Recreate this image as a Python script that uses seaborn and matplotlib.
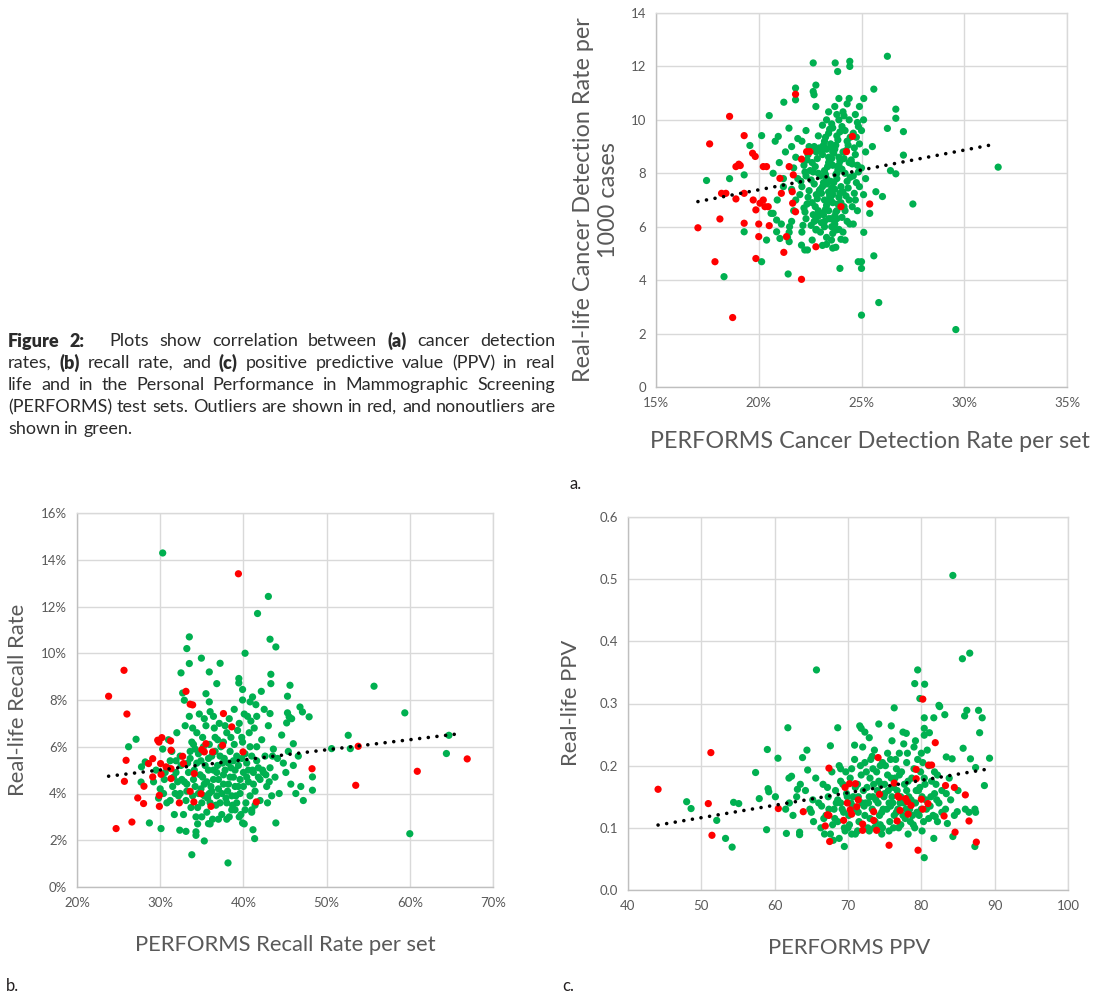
import numpy as np
import pandas as pd
import matplotlib.pyplot as plt
import seaborn as sns
from matplotlib.ticker import FuncFormatter

# ---- panel a: cancer detection rate (x in %, y per 1000 cases)
a_red = [(17.04, 5.96), (17.61, 9.1), (17.87, 4.69), (18.11, 6.29), (18.19, 7.25), (18.4, 7.25),
         (18.58, 10.13), (18.73, 2.6), (18.89, 7.04), (18.89, 8.25), (19.03, 8.34), (19.1, 8.29),
         (19.29, 9.41), (19.29, 7.25), (19.29, 6.13), (19.7, 8.75), (19.83, 8.63), (19.73, 7.0),
         (19.86, 6.63), (19.86, 4.81), (20.0, 6.1), (20.0, 5.63), (20.06, 6.88), (20.22, 7.0),
         (20.3, 6.75), (20.46, 6.75), (20.22, 8.25), (20.38, 8.25), (20.51, 6.04), (21.03, 7.81),
         (21.1, 7.25), (21.22, 5.04), (21.35, 5.63), (21.48, 8.25), (21.63, 7.31), (21.65, 6.88),
         (21.79, 10.96), (21.79, 6.56), (22.08, 8.53), (22.08, 4.03), (22.33, 8.81), (22.49, 8.81),
         (22.78, 5.25), (24.27, 8.81), (24.0, 6.75), (24.56, 9.38), (25.4, 6.85), (21.68, 7.94)]
a_green = [(17.46, 7.73), (18.31, 4.13), (18.58, 7.8), (19.29, 7.94), (19.29, 5.81), (19.57, 9.04),
           (20.14, 4.69), (20.14, 9.41), (20.38, 5.5), (20.51, 10.16), (20.7, 6.5), (20.95, 9.38),
           (21.03, 5.56), (21.22, 10.66), (21.47, 9.69), (21.43, 4.23), (21.79, 11.19), (21.79, 10.75),
           (22.08, 5.31), (22.24, 5.13), (22.37, 5.13), (22.65, 12.13), (22.65, 11.06), (22.69, 10.94),
           (22.78, 11.3), (22.78, 10.5), (23.72, 12.13), (23.84, 11.81), (24.43, 12.19), (24.43, 12.0),
           (26.26, 12.38), (25.6, 11.15), (25.11, 10.8), (26.67, 10.4), (26.67, 10.06), (26.26, 9.68),
           (27.04, 9.56), (27.04, 8.68), (31.65, 8.23), (27.5, 6.85), (26.02, 7.13), (25.7, 7.31),
           (26.67, 7.98), (26.41, 8.1), (25.53, 9.0), (25.6, 4.91), (25.0, 4.69), (25.0, 4.44),
           (24.84, 4.69), (25.0, 2.69), (25.84, 3.16), (29.59, 2.15), (25.11, 5.79), (25.4, 6.5),
           (23.95, 4.44), (24.43, 6.1), (23.3, 5.34), (23.75, 5.23), (23.54, 5.5), (24.0, 5.53),
           (23.77, 5.88), (22.78, 5.88), (22.78, 6.25), (21.48, 5.79), (21.48, 5.44), (20.87, 5.81),
           (20.87, 6.25),
           (21.6, 6.2), (21.7, 6.6), (21.8, 7.0), (21.6, 7.4), (21.9, 7.8), (21.7, 8.2), (21.8, 8.6),
           (21.6, 9.0), (21.9, 9.3), (21.5, 6.0), (22.1, 5.8), (22.3, 6.3), (22.2, 6.7), (22.4, 7.1),
           (22.1, 7.5), (22.3, 7.9), (22.2, 8.3), (22.4, 8.7), (22.1, 9.2), (22.3, 9.6), (22.6, 5.5),
           (22.8, 5.9), (22.7, 6.2), (22.9, 6.6), (22.6, 6.9), (22.8, 7.2), (22.7, 7.6), (22.9, 8.0),
           (22.6, 8.4), (22.8, 8.8), (22.7, 9.0), (22.9, 9.4), (23.1, 5.3), (23.2, 6.0), (23.4, 6.3),
           (23.1, 6.5), (23.3, 6.8), (23.2, 7.0), (23.4, 7.3), (23.1, 7.5), (23.3, 7.8), (23.2, 8.1),
           (23.4, 8.4), (23.1, 8.7), (23.3, 8.9), (23.2, 9.2), (23.4, 9.5), (23.1, 9.8), (23.3, 10.0),
           (23.6, 5.2), (23.7, 6.1), (23.5, 6.3), (23.8, 6.6), (23.6, 6.9), (23.9, 7.1), (23.7, 7.4),
           (23.5, 7.7), (23.8, 8.0), (23.6, 8.3), (23.9, 8.6), (23.7, 8.9), (23.5, 9.1), (23.8, 9.4),
           (23.6, 9.7), (23.9, 10.0), (23.7, 10.5), (23.9, 10.8), (24.1, 5.8), (24.3, 6.2), (24.2, 6.6),
           (24.4, 7.0), (24.1, 7.3), (24.3, 7.7), (24.2, 8.0), (24.4, 8.4), (24.1, 8.8), (24.3, 9.2),
           (24.2, 9.6), (24.4, 10.0), (24.1, 10.3), (24.3, 10.6), (24.4, 10.8), (24.6, 6.1), (24.8, 6.6),
           (24.7, 7.0), (24.9, 7.5), (24.6, 7.9), (24.8, 8.3), (24.7, 8.7), (24.9, 9.1), (24.6, 9.5),
           (24.8, 9.9), (24.7, 10.2), (24.9, 10.5), (25.1, 7.2), (25.2, 7.8), (25.0, 8.2), (25.2, 8.8),
           (25.0, 9.6), (25.1, 10.0), (20.6, 6.5), (20.9, 7.0), (21.2, 7.5), (20.7, 8.0), (21.0, 8.4),
           (21.3, 8.8), (20.8, 9.2), (21.1, 6.1), (21.4, 5.6), (21.2, 7.8), (23.5, 7.0), (23.6, 7.2),
           (23.4, 6.6), (23.7, 6.4), (23.3, 7.6), (23.0, 7.9), (23.8, 7.8), (23.4, 8.6), (23.6, 8.8),
           (23.5, 9.0), (23.9, 8.3), (23.2, 6.2), (22.9, 6.4), (23.0, 7.4), (24.0, 7.5), (24.0, 6.9),
           (23.8, 6.3), (24.5, 8.5), (22.5, 8.1), (22.0, 7.2),
           (22.55, 6.05), (22.65, 6.45), (22.75, 6.75), (22.85, 7.05), (22.95, 7.35), (22.55, 7.75),
           (22.65, 8.05), (22.75, 8.25), (22.85, 8.55), (22.95, 8.95), (23.05, 6.15), (23.15, 6.45),
           (23.25, 6.65), (23.35, 6.95), (23.45, 7.15), (23.05, 7.25), (23.15, 7.65), (23.25, 7.95),
           (23.35, 8.25), (23.45, 8.55), (23.05, 8.85), (23.15, 9.05), (23.25, 9.35), (23.45, 9.65),
           (23.55, 6.0), (23.65, 6.25), (23.75, 6.55), (23.85, 6.85), (23.95, 7.25), (23.55, 7.45),
           (23.65, 7.65), (23.75, 7.95), (23.85, 8.15), (23.95, 8.45), (23.55, 8.55), (23.65, 8.75),
           (23.75, 9.05), (23.85, 9.25), (23.95, 9.55), (23.55, 9.85), (24.05, 6.35), (24.15, 6.75),
           (24.25, 7.15), (24.35, 7.45), (24.45, 7.85), (24.05, 8.15), (24.15, 8.55), (24.25, 8.85),
           (24.35, 9.05), (24.45, 9.35), (24.05, 9.75), (24.15, 10.15), (24.55, 6.75), (24.65, 7.25),
           (24.75, 7.65), (24.85, 8.05), (24.55, 8.35), (24.65, 8.95), (24.75, 9.35), (24.85, 9.75),
           (22.15, 6.05), (22.25, 6.55), (22.35, 6.85), (22.45, 7.35), (22.05, 7.7), (22.25, 8.05),
           (22.35, 8.5), (22.45, 9.0), (23.3, 5.6), (23.6, 5.75), (23.9, 5.9), (23.0, 5.8), (24.2, 5.5),
           (23.4, 10.3), (23.8, 10.2)]
a_trend_x = [17.04, 31.29]
a_trend_y = [6.94, 9.06]

# ---- panel b: recall rate (both in %)
b_red = [(23.8, 8.16), (24.7, 2.5), (25.65, 9.27), (25.7, 4.52), (25.9, 5.42), (26.0, 7.4),
         (26.6, 2.78), (27.3, 3.81), (28.0, 3.57), (28.05, 4.31), (28.6, 5.28), (29.1, 5.49),
         (29.1, 4.71), (29.7, 6.28), (29.85, 6.2), (29.9, 3.92), (29.9, 3.45), (30.2, 6.39),
         (30.05, 5.28), (30.1, 4.82), (30.7, 5.14), (31.3, 5.06), (31.25, 6.25), (31.3, 5.85),
         (31.3, 4.64), (32.3, 3.6), (32.7, 5.59), (32.8, 5.28), (33.1, 8.37), (33.6, 7.82),
         (33.9, 7.79), (33.6, 4.09), (34.1, 4.85), (34.05, 3.64), (34.9, 3.99), (35.0, 5.88),
         (35.3, 5.78), (35.5, 6.13), (36.1, 3.45), (36.3, 5.78), (37.6, 7.42), (37.5, 6.06),
         (38.6, 6.85), (39.4, 13.4), (39.95, 5.78), (41.55, 3.64), (48.25, 5.06), (53.5, 4.35),
         (53.8, 6.02), (60.9, 4.95), (66.9, 5.48)]
b_green = [(30.3, 14.29), (43.0, 12.43), (41.7, 11.7), (33.5, 10.7), (43.2, 10.6), (43.9, 10.27),
           (33.2, 10.2), (40.2, 10.0), (34.95, 9.79), (33.5, 9.56), (37.2, 9.57), (32.5, 9.16),
           (35.9, 9.2), (43.3, 9.1), (43.3, 8.7), (39.45, 8.92), (39.45, 8.73), (36.8, 8.7),
           (55.7, 8.59), (45.6, 8.63), (35.5, 8.27), (32.7, 8.3), (32.9, 7.99), (39.9, 8.45),
           (42.15, 8.37), (41.1, 8.13), (40.8, 7.92), (45.3, 8.16), (39.9, 8.0), (35.9, 7.92),
           (59.4, 7.45), (43.2, 7.42), (46.8, 7.7), (47.1, 7.49), (47.9, 7.28), (45.3, 7.45),
           (45.5, 7.28), (45.8, 7.2), (45.2, 7.02), (27.1, 6.32), (26.2, 6.0), (52.6, 6.49),
           (64.7, 6.49), (64.4, 5.71), (60.0, 2.28), (50.6, 5.92), (52.85, 5.92), (48.3, 4.71),
           (48.3, 4.14), (46.0, 6.13), (38.15, 1.03), (33.8, 1.38), (35.3, 1.97), (28.7, 2.74),
           (30.1, 2.5), (34.3, 2.21), (34.3, 2.36), (32.35, 2.43), (33.1, 2.38), (43.9, 2.74),
           (41.15, 2.45), (41.35, 2.07), (39.9, 2.74), (35.8, 2.71), (27.7, 4.49), (27.75, 5.14),
           (28.2, 5.35),
           (29.2, 4.5), (29.5, 5.0), (29.8, 3.8), (30.0, 4.2), (30.3, 5.9), (30.5, 4.6), (30.8, 3.6),
           (31.0, 6.3), (31.2, 5.4), (31.5, 4.3), (31.7, 3.1), (31.9, 4.9), (32.0, 6.6), (32.2, 3.9),
           (32.4, 5.6), (32.6, 4.6), (32.8, 3.1), (33.0, 6.9), (33.2, 4.1), (33.3, 5.3), (33.5, 7.3),
           (33.7, 3.4), (33.8, 6.2), (34.0, 4.6), (34.1, 5.0), (34.3, 3.0), (34.4, 6.6), (34.6, 4.0),
           (34.7, 7.4), (34.9, 5.4), (35.0, 3.6), (35.2, 6.0), (35.3, 4.4), (35.5, 6.9), (35.6, 3.2),
           (35.8, 5.0), (35.9, 4.0), (36.0, 7.5), (36.2, 5.6), (36.3, 2.9), (36.4, 4.6), (36.6, 6.4),
           (36.7, 3.5), (36.9, 5.2), (37.0, 4.2), (37.1, 7.0), (37.3, 6.0), (37.4, 3.1), (37.6, 4.8),
           (37.7, 5.5), (37.9, 3.8), (38.0, 6.6), (38.2, 4.4), (38.3, 7.2), (38.5, 5.1), (38.6, 3.3),
           (38.8, 4.7), (38.9, 6.1), (39.1, 3.9), (39.2, 5.6), (39.4, 4.3), (39.5, 7.0), (39.7, 3.1),
           (39.8, 6.4), (40.0, 4.9), (40.2, 5.7), (40.3, 3.6), (40.5, 7.3), (40.6, 4.5), (40.8, 6.0),
           (41.0, 3.3), (41.1, 5.0), (41.3, 6.8), (41.4, 4.1), (41.6, 5.4), (41.8, 4.7), (42.0, 3.7),
           (42.2, 6.3), (42.4, 4.9), (42.6, 5.6), (42.8, 4.3), (43.0, 6.9), (43.2, 5.1), (43.4, 3.9),
           (43.6, 5.9), (43.8, 4.7), (44.1, 5.5), (44.3, 4.0), (44.6, 6.5), (44.8, 5.3), (45.1, 4.9),
           (45.4, 5.8), (45.7, 4.4), (46.0, 5.2), (46.3, 4.0), (46.6, 5.6), (46.9, 4.3), (47.2, 3.7),
           (30.9, 5.1), (31.4, 5.8), (32.9, 4.5), (33.6, 5.8), (34.8, 4.8), (35.4, 5.2), (36.1, 4.3),
           (36.8, 4.9), (37.5, 5.3), (38.1, 4.1), (38.4, 5.8), (39.0, 5.0), (39.6, 4.6), (40.4, 5.3),
           (41.2, 4.4), (35.7, 3.8), (37.2, 3.6), (38.7, 3.5), (34.5, 3.4), (33.1, 3.7), (36.5, 6.8),
           (39.3, 6.7), (40.9, 7.1), (37.8, 6.9), (34.2, 5.9), (32.5, 5.2), (31.8, 4.0), (35.1, 6.4),
           (42.5, 7.6), (41.5, 7.8), (36.0, 2.7), (39.5, 3.0), (40.1, 2.7), (37.0, 2.9),
           (33.2, 4.4), (33.4, 4.9), (33.6, 5.5), (33.9, 3.9), (34.2, 4.3), (34.4, 5.3), (34.6, 5.7),
           (34.9, 4.2), (35.1, 4.7), (35.3, 3.9), (35.6, 4.5), (35.8, 5.5), (36.0, 3.6), (36.2, 4.1),
           (36.4, 5.0), (36.6, 5.8), (36.8, 3.9), (37.0, 4.6), (37.2, 5.6), (37.4, 4.0), (37.6, 4.4),
           (37.8, 5.0), (38.0, 3.6), (38.2, 5.3), (38.4, 4.7), (38.6, 3.9), (38.8, 5.4), (39.0, 4.3),
           (39.2, 3.6), (39.4, 5.2), (39.6, 4.0), (39.8, 5.5), (40.0, 4.3), (40.2, 3.3), (40.4, 4.7),
           (40.6, 5.0), (40.8, 3.9), (41.0, 5.6), (41.2, 4.9), (41.4, 3.5), (41.6, 6.0), (41.8, 5.1),
           (42.0, 4.6), (42.3, 5.0), (42.7, 4.8), (43.1, 4.5), (43.5, 5.6), (32.4, 4.0), (32.1, 4.5),
           (31.9, 5.4), (31.6, 4.7), (31.2, 3.7), (30.6, 4.9), (30.4, 4.0), (36.9, 6.3), (35.9, 6.1),
           (34.0, 6.1), (38.5, 6.4), (39.9, 6.2), (40.7, 6.6), (37.6, 6.2), (33.9, 6.8), (35.3, 7.2),
           (36.4, 7.3), (38.9, 7.6), (40.1, 7.4), (41.6, 7.3), (34.5, 2.7), (35.0, 3.0), (38.3, 3.0),
           (38.0, 2.9), (39.0, 3.3), (41.0, 3.2), (42.9, 3.6)]
b_trend_x = [23.8, 66.0]
b_trend_y = [4.74, 6.56]

# ---- panel c: positive predictive value
c_red = [(44.1, 0.162), (50.95, 0.139), (51.3, 0.221), (51.45, 0.088), (60.5, 0.131), (63.9, 0.126),
         (66.9, 0.103), (67.2, 0.121), (67.4, 0.12), (67.4, 0.196), (67.5, 0.078), (69.4, 0.112),
         (69.6, 0.165), (70.2, 0.171), (71.0, 0.171), (69.9, 0.14), (70.3, 0.129), (70.5, 0.122),
         (71.2, 0.134), (71.4, 0.145), (72.0, 0.106), (72.0, 0.096), (73.5, 0.126), (73.5, 0.112),
         (73.9, 0.096), (74.1, 0.213), (74.3, 0.154), (75.6, 0.072), (76.3, 0.172), (76.7, 0.111),
         (76.8, 0.151), (76.95, 0.149), (77.1, 0.128), (77.85, 0.147), (78.1, 0.142), (78.2, 0.122),
         (78.6, 0.136), (79.3, 0.194), (79.3, 0.179), (79.55, 0.064), (80.0, 0.146), (80.2, 0.13),
         (80.2, 0.307), (80.9, 0.139), (81.0, 0.201), (81.4, 0.201), (81.9, 0.237), (83.1, 0.119),
         (83.3, 0.168), (84.5, 0.165), (84.6, 0.093), (86.0, 0.153), (86.5, 0.111), (87.5, 0.077)]
c_green = [(84.3, 0.506), (86.6, 0.381), (85.6, 0.372), (65.7, 0.354), (79.5, 0.354), (79.1, 0.332),
           (80.45, 0.331), (79.8, 0.308), (82.4, 0.297), (82.5, 0.295), (83.2, 0.282), (76.3, 0.293),
           (86.2, 0.289), (87.8, 0.289), (85.9, 0.28), (88.3, 0.277), (80.4, 0.277), (81.7, 0.277),
           (61.8, 0.261), (68.6, 0.261), (74.2, 0.267), (75.9, 0.264), (71.6, 0.264), (71.8, 0.26),
           (72.3, 0.254), (72.9, 0.245), (80.4, 0.26), (80.4, 0.249), (81.1, 0.253), (87.95, 0.253),
           (77.5, 0.254), (77.95, 0.252), (59.0, 0.226), (64.4, 0.225), (67.6, 0.232), (70.9, 0.233),
           (85.7, 0.228), (89.3, 0.212), (83.4, 0.214), (84.2, 0.211), (86.7, 0.211), (60.45, 0.212),
           (63.8, 0.213), (57.4, 0.189), (87.4, 0.197), (88.6, 0.168), (48.0, 0.142), (48.6, 0.131),
           (52.1, 0.112), (53.3, 0.083), (54.2, 0.069), (54.4, 0.141), (55.1, 0.139), (57.9, 0.147),
           (58.9, 0.097), (59.1, 0.163), (59.2, 0.158), (60.1, 0.15), (61.6, 0.091), (63.4, 0.093),
           (63.4, 0.089), (61.95, 0.18), (62.3, 0.183), (63.1, 0.162), (64.5, 0.193), (69.5, 0.07),
           (68.8, 0.083), (80.4, 0.052), (87.3, 0.07), (84.3, 0.086), (84.9, 0.126), (86.5, 0.125),
           (87.3, 0.13), (87.4, 0.125), (81.7, 0.083), (83.55, 0.107), (81.9, 0.118), (82.1, 0.145),
           (64.2, 0.16), (64.8, 0.13), (65.3, 0.11), (65.6, 0.18), (66.0, 0.14), (66.3, 0.10),
           (66.6, 0.17), (67.0, 0.12), (67.3, 0.15), (67.6, 0.09), (67.8, 0.19), (68.1, 0.13),
           (68.3, 0.16), (68.6, 0.11), (68.8, 0.20), (69.0, 0.14), (69.3, 0.17), (69.5, 0.10),
           (69.7, 0.19), (69.9, 0.15), (70.1, 0.12), (70.3, 0.18), (70.5, 0.09), (70.7, 0.15),
           (70.9, 0.21), (71.1, 0.13), (71.3, 0.17), (71.5, 0.11), (71.7, 0.20), (71.9, 0.14),
           (72.1, 0.16), (72.3, 0.12), (72.5, 0.19), (72.7, 0.10), (72.9, 0.15), (73.1, 0.21),
           (73.3, 0.13), (73.5, 0.17), (73.7, 0.11), (73.9, 0.19), (74.1, 0.14), (74.3, 0.12),
           (74.5, 0.17), (74.7, 0.10), (74.9, 0.15), (75.1, 0.20), (75.3, 0.13), (75.5, 0.16),
           (75.7, 0.11), (75.9, 0.18), (76.1, 0.14), (76.3, 0.12), (76.5, 0.21), (76.7, 0.16),
           (76.9, 0.10), (77.1, 0.14), (77.3, 0.19), (77.5, 0.12), (77.7, 0.17), (77.9, 0.13),
           (78.1, 0.22), (78.3, 0.15), (78.5, 0.11), (78.7, 0.18), (78.9, 0.14), (79.1, 0.10),
           (79.3, 0.16), (79.5, 0.21), (79.7, 0.12), (79.9, 0.19), (80.1, 0.15), (80.3, 0.11),
           (80.5, 0.17), (80.7, 0.13), (81.0, 0.20), (81.3, 0.15), (81.6, 0.12), (82.0, 0.17),
           (82.4, 0.14), (82.8, 0.16), (83.3, 0.13), (62.5, 0.12), (63.0, 0.15), (61.5, 0.13),
           (62.0, 0.14), (63.5, 0.17), (66.8, 0.09), (68.0, 0.08), (70.0, 0.10), (71.0, 0.09),
           (72.8, 0.14), (73.0, 0.18), (74.0, 0.16), (74.8, 0.13), (75.0, 0.17), (75.6, 0.14),
           (76.0, 0.15), (76.4, 0.18), (76.8, 0.13), (77.2, 0.15), (77.6, 0.14), (78.0, 0.16),
           (78.4, 0.13), (78.8, 0.12), (79.2, 0.14), (79.6, 0.16), (80.0, 0.13), (80.4, 0.18),
           (70.4, 0.14), (71.4, 0.15), (72.4, 0.14), (69.2, 0.13), (68.4, 0.14), (67.4, 0.13),
           (73.4, 0.15), (74.4, 0.20), (72.0, 0.23), (75.4, 0.22), (77.0, 0.22), (79.0, 0.23),
           (78.2, 0.09), (76.2, 0.10), (74.6, 0.09), (73.6, 0.10), (81.8, 0.19), (82.2, 0.11),
           (83.8, 0.18), (84.5, 0.12),
           (68.2, 0.115), (68.6, 0.145), (69.0, 0.175), (69.4, 0.125), (69.8, 0.155), (70.2, 0.105),
           (70.6, 0.135), (71.0, 0.165), (71.4, 0.125), (71.8, 0.185), (72.2, 0.135), (72.6, 0.165),
           (73.0, 0.115), (73.4, 0.195), (73.8, 0.145), (74.2, 0.175), (74.6, 0.125), (75.0, 0.155),
           (75.4, 0.185), (75.8, 0.135), (76.2, 0.165), (76.6, 0.125), (77.0, 0.185), (77.4, 0.145),
           (77.8, 0.115), (78.2, 0.175), (78.6, 0.145), (79.0, 0.195), (79.4, 0.125), (79.8, 0.165),
           (80.2, 0.205), (80.6, 0.145), (81.0, 0.115), (81.4, 0.175), (81.8, 0.155), (82.2, 0.185),
           (72.3, 0.205), (73.3, 0.215), (74.7, 0.205), (75.8, 0.21), (76.6, 0.195), (78.0, 0.205),
           (80.0, 0.22), (80.8, 0.225), (79.2, 0.24), (77.6, 0.235), (76.0, 0.24), (73.6, 0.225),
           (70.5, 0.195), (69.0, 0.195), (67.2, 0.165), (66.4, 0.135), (65.2, 0.145), (65.0, 0.125),
           (66.7, 0.115), (67.9, 0.105), (69.6, 0.095), (71.3, 0.095), (72.9, 0.095), (74.4, 0.105),
           (75.6, 0.095), (77.2, 0.105), (78.9, 0.105), (80.1, 0.095), (81.2, 0.135), (82.8, 0.125),
           (83.4, 0.155), (84.0, 0.145), (85.0, 0.16), (86.0, 0.13)]
c_trend_x = [44.1, 88.8]
c_trend_y = [0.1045, 0.194]

GREEN = "#00B050"
RED = "#FF0000"
GRID = "#D9D9D9"
TXT = "#595959"

sns.set_style("white")
plt.rcParams['font.family'] = ['Lato', 'DejaVu Sans']

W, H = 1100, 996
fig = plt.figure(figsize=(W / 100, H / 100), dpi=100)


def px_rect(left, top, right, bottom):
    return [left / W, 1 - bottom / H, (right - left) / W, (bottom - top) / H]


def panel(rect, green, red, tx, ty, xlim, ylim, xstep, ystep, xfmt, yfmt):
    ax = fig.add_axes(rect)
    df = pd.DataFrame(green + red, columns=['x', 'y'])
    df['kind'] = ['nonoutlier'] * len(green) + ['outlier'] * len(red)
    sns.scatterplot(data=df, x='x', y='y', hue='kind',
                    palette={'nonoutlier': GREEN, 'outlier': RED},
                    s=27, linewidth=0, legend=False, ax=ax, zorder=3)
    ax.plot(tx, ty, color='black', lw=2.6, ls=(0, (0.01, 2.4)),
            dash_capstyle='round', zorder=4)
    ax.set_xlim(xlim)
    ax.set_ylim(ylim)
    ax.set_xticks(np.arange(xlim[0], xlim[1] + xstep / 2, xstep))
    ax.set_yticks(np.arange(ylim[0], ylim[1] + ystep / 2, ystep))
    ax.xaxis.set_major_formatter(FuncFormatter(xfmt))
    ax.yaxis.set_major_formatter(FuncFormatter(yfmt))
    ax.grid(True, color=GRID, lw=1.0)
    ax.set_axisbelow(True)
    for sp in ax.spines.values():
        sp.set_color(GRID)
        sp.set_linewidth(1.0)
    ax.spines['left'].set_color('#BFBFBF')
    ax.spines['bottom'].set_color('#BFBFBF')
    ax.tick_params(length=0, labelsize=9.5, labelcolor=TXT, pad=7)
    ax.set_xlabel('')
    ax.set_ylabel('')
    return ax


pct = lambda v, p: f"{v:.0f}%"
plain0 = lambda v, p: f"{v:.0f}"
plain1 = lambda v, p: f"{v:.1f}"

panel(px_rect(656, 13, 1067, 387), a_green, a_red, a_trend_x, a_trend_y,
      (15, 35), (0, 14), 5, 2, pct, plain0)
panel(px_rect(77, 513, 493, 887), b_green, b_red, b_trend_x, b_trend_y,
      (20, 70), (0, 16), 10, 2, pct, pct)
panel(px_rect(628, 517, 1068, 890), c_green, c_red, c_trend_x, c_trend_y,
      (40, 100), (0, 0.6), 10, 0.1, plain0, plain1)


def ftext(x, y, s, **kw):
    fig.text(x / W, 1 - y / H, s, **kw)


lab = dict(color=TXT, ha='center', va='center')
ftext(596, 200, "Real-life Cancer Detection Rate per\n1000 cases", rotation=90,
      linespacing=1.25, fontsize=16.8, **lab)
ftext(870, 442, "PERFORMS Cancer Detection Rate per set", fontsize=16.8, **lab)
ftext(18, 700, "Real-life Recall Rate", rotation=90, fontsize=15.8, **lab)
ftext(285, 945, "PERFORMS Recall Rate per set", fontsize=15.8, **lab)
ftext(571, 703, "Real-life PPV", rotation=90, fontsize=15.8, **lab)
ftext(849, 948, "PERFORMS PPV", fontsize=15.8, **lab)

pan = dict(fontsize=12, color='#231F20', ha='left', va='center')
ftext(570, 484, "a.", **pan)
ftext(6, 986, "b.", **pan)
ftext(562, 986, "c.", **pan)

# caption, justified word by word
cap_lines = [
    [("Figure 2:", True, 14), ("Plots show correlation between", False, 0), ("(a)", True, 0),
     ("cancer detection", False, 0)],
    [("rates,", False, 0), ("(b)", True, 0), ("recall rate, and", False, 0), ("(c)", True, 0),
     ("positive predictive value (PPV) in real", False, 0)],
    [("life and in the Personal Performance in Mammographic Screening", False, 0)],
    [("(PERFORMS) test sets. Outliers are shown in red, and nonoutliers are", False, 0)],
    [("shown in green.", False, 0)],
]
cap_y = [341, 363, 385, 407, 429]
cap_left, cap_right = 8, 555
CAP_COLOR = '#2b2b2b'
renderer = fig.canvas.get_renderer()

# size the caption so its fullest line fills the column with ordinary spacing
probe = fig.text(0, 0, cap_lines[3][0][0], fontsize=10)
cap_fs = 10 * (cap_right - cap_left) / probe.get_window_extent(renderer).width
probe.remove()

for li, (segs, y) in enumerate(zip(cap_lines, cap_y)):
    words = []
    for txt, bold, extra in segs:
        parts = txt.split()
        for k, w in enumerate(parts):
            words.append((w, bold, extra if k == len(parts) - 1 else 0))
    widths = []
    for w, bold, extra in words:
        t = fig.text(0, 0, w, fontsize=cap_fs, fontweight='heavy' if bold else 'normal')
        widths.append(t.get_window_extent(renderer).width)
        t.remove()
    extras = sum(e for _, _, e in words[:-1])
    if li < len(cap_lines) - 1:
        gap = (cap_right - cap_left - sum(widths) - extras) / (len(words) - 1)
    else:
        gap = cap_fs * 0.33
    x = cap_left
    for (w, bold, extra), wd in zip(words, widths):
        ftext(x, y, w, fontsize=cap_fs, fontweight='heavy' if bold else 'normal',
              color=CAP_COLOR, ha='left', va='center')
        x += wd + gap + extra

fig.savefig("out.png", dpi=100)
